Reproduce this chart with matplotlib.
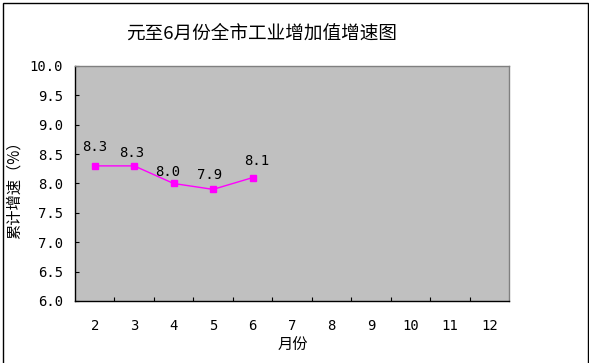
import matplotlib
matplotlib.use("Agg")
import matplotlib.pyplot as plt
from matplotlib.patches import Rectangle

# data
months = ["2", "3", "4", "5", "6", "7", "8", "9", "10", "11", "12"]
values = [8.3, 8.3, 8.0, 7.9, 8.1]
value_labels = ["8.3", "8.3", "8.0", "7.9", "8.1"]
yticks = [6.0, 6.5, 7.0, 7.5, 8.0, 8.5, 9.0, 9.5, 10.0]
title = "元至6月份全市工业增加值增速图"
xlabel = "月份"
ylabel = "累计增速（%）"

# label offsets (pixels) - styling
label_offsets = [(0, 19), (-2, 13), (-6, 12), (-4, 14), (4, 17)]

cjk = ["Noto Sans CJK SC", "DejaVu Sans"]
mono = ["DejaVu Sans Mono"]

W, H = 589, 363
fig = plt.figure(figsize=(W / 100, H / 100), dpi=100)
fig.patch.set_facecolor("white")

# chart frame
fig.patches.append(Rectangle((2.5 / W, -0.01), (588 - 2.5) / W, (H - 2.5) / H + 0.01,
                             transform=fig.transFigure, fill=False,
                             edgecolor="black", linewidth=1.0))

ax = fig.add_axes([75 / W, 1 - 301 / H, (509 - 75) / W, (301 - 66) / H])
ax.set_facecolor("#C0C0C0")

x = list(range(len(values)))
ax.plot(x, values, color="#FF00FF", linewidth=1.0, marker="s", markersize=4.5,
        markerfacecolor="#FF00FF", markeredgecolor="#FF00FF")

for xi, v, lab, off in zip(x, values, value_labels, label_offsets):
    ax.annotate(lab, (xi, v), xytext=(off[0] * 0.72, off[1] * 0.72),
                textcoords="offset points", ha="center", va="center",
                fontsize=10, family=mono, color="black")

ax.set_xlim(-0.5, len(months) - 0.5)
ax.set_ylim(6.0, 10.0)

ax.set_yticks(yticks)
ax.set_yticklabels([f"{t:.1f}" for t in yticks], family=mono, fontsize=10)
ax.tick_params(axis="y", direction="in", length=3, width=0.8, pad=8.6, colors="black")

# category boundaries as major ticks, labels on minor ticks at centers
ax.set_xticks([i + 0.5 for i in range(len(months) - 1)])
ax.set_xticklabels([])
ax.tick_params(axis="x", which="major", direction="in", length=3, width=0.8)
ax.set_xticks(list(range(len(months))), minor=True)
ax.set_xticklabels(months, minor=True, family=mono, fontsize=10)
ax.tick_params(axis="x", which="minor", length=0, pad=13)

for s in ["top", "right"]:
    ax.spines[s].set_color("#808080")
    ax.spines[s].set_linewidth(1.0)
for s in ["left", "bottom"]:
    ax.spines[s].set_color("black")
    ax.spines[s].set_linewidth(1.0)

fig.text(262 / W, 1 - 34 / H, title, family=cjk, fontsize=13.4,
         ha="center", va="center")
fig.text(293 / W, 1 - 345 / H, xlabel, family=cjk, fontsize=11,
         ha="center", va="center")
fig.text(14 / W, 1 - 186 / H, ylabel, family=cjk, fontsize=11,
         ha="center", va="center", rotation=90)

fig.savefig("out.png", dpi=100, facecolor="white")
